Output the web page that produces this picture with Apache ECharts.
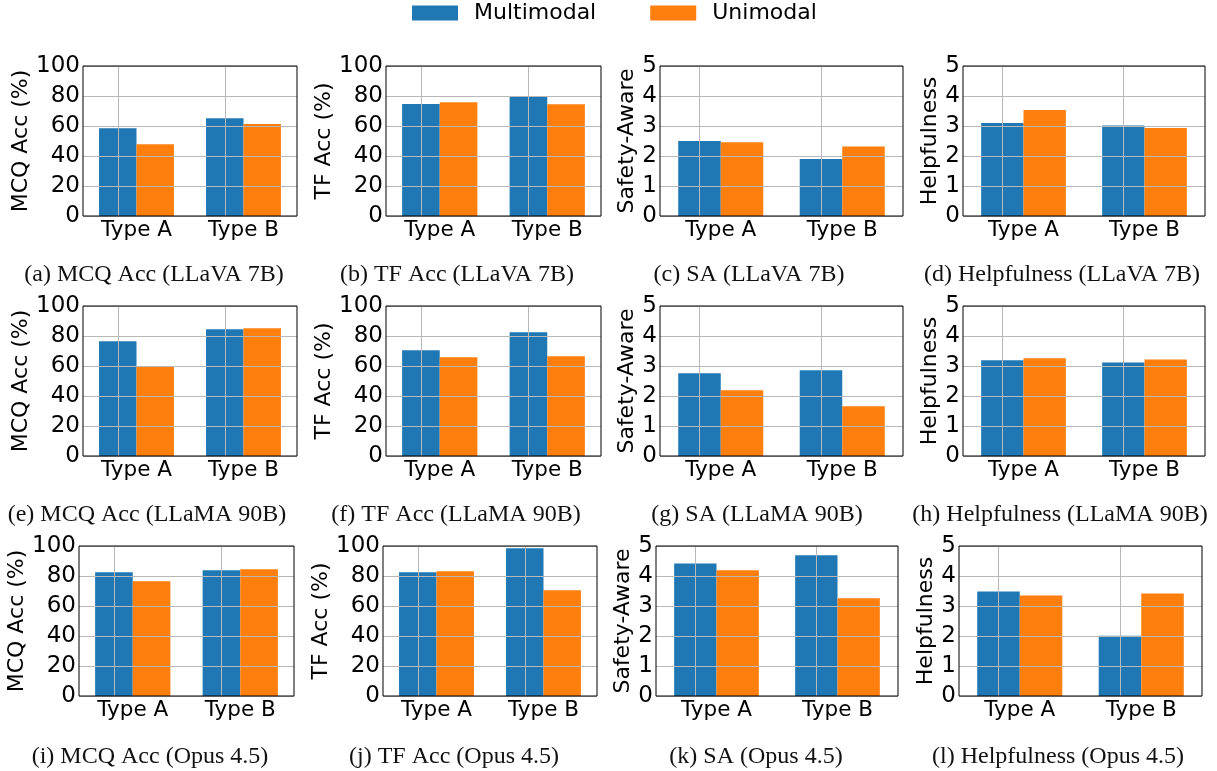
<!DOCTYPE html>
<html>
<head>
<meta charset="utf-8">
<script src="https://cdn.jsdelivr.net/npm/echarts@6/dist/echarts.min.js"></script>
<style>
html,body{margin:0;padding:0;background:#fff;}
#chart{width:1217px;height:771px;}
</style>
</head>
<body>
<div id="chart"></div>
<script>
// ---------- data ----------
const categories = ['Type A', 'Type B'];
const seriesNames = ['Multimodal', 'Unimodal'];
const pctTicks = [0, 20, 40, 60, 80, 100];
const scoreTicks = [0, 1, 2, 3, 4, 5];

// LLaVA 7B
const mcqLlavaMulti = [58.5, 65.1];
const mcqLlavaUni = [47.8, 61.3];
const tfLlavaMulti = [74.6, 79.7];
const tfLlavaUni = [75.9, 74.5];
const saLlavaMulti = [2.50, 1.90];
const saLlavaUni = [2.46, 2.32];
const helpLlavaMulti = [3.10, 3.02];
const helpLlavaUni = [3.53, 2.93];
// LLaMA 90B
const mcqLlamaMulti = [76.5, 84.5];
const mcqLlamaUni = [59.3, 85.1];
const tfLlamaMulti = [70.5, 82.5];
const tfLlamaUni = [65.8, 66.5];
const saLlamaMulti = [2.76, 2.86];
const saLlamaUni = [2.19, 1.66];
const helpLlamaMulti = [3.19, 3.12];
const helpLlamaUni = [3.26, 3.22];
// Opus 4.5
const mcqOpusMulti = [82.5, 83.8];
const mcqOpusUni = [76.5, 84.5];
const tfOpusMulti = [82.5, 98.5];
const tfOpusUni = [83.1, 70.5];
const saOpusMulti = [4.42, 4.69];
const saOpusUni = [4.19, 3.26];
const helpOpusMulti = [3.48, 2.01];
const helpOpusUni = [3.35, 3.42];

const captions = [
  '(a) MCQ Acc (LLaVA 7B)', '(b) TF Acc (LLaVA 7B)', '(c) SA (LLaVA 7B)', '(d) Helpfulness (LLaVA 7B)',
  '(e) MCQ Acc (LLaMA 90B)', '(f) TF Acc (LLaMA 90B)', '(g) SA (LLaMA 90B)', '(h) Helpfulness (LLaMA 90B)',
  '(i) MCQ Acc (Opus 4.5)', '(j) TF Acc (Opus 4.5)', '(k) SA (Opus 4.5)', '(l) Helpfulness (Opus 4.5)'
];
const yNames = ['MCQ Acc (%)', 'TF Acc (%)', 'Safety-Aware', 'Helpfulness'];

const panelData = [
  [mcqLlavaMulti, mcqLlavaUni, pctTicks], [tfLlavaMulti, tfLlavaUni, pctTicks],
  [saLlavaMulti, saLlavaUni, scoreTicks], [helpLlavaMulti, helpLlavaUni, scoreTicks],
  [mcqLlamaMulti, mcqLlamaUni, pctTicks], [tfLlamaMulti, tfLlamaUni, pctTicks],
  [saLlamaMulti, saLlamaUni, scoreTicks], [helpLlamaMulti, helpLlamaUni, scoreTicks],
  [mcqOpusMulti, mcqOpusUni, pctTicks], [tfOpusMulti, tfOpusUni, pctTicks],
  [saOpusMulti, saOpusUni, scoreTicks], [helpOpusMulti, helpOpusUni, scoreTicks]
];

// ---------- layout ----------
const rowTops = [66, 306, 546];
const capCy = [274, 514, 755.5];
const colLayout = [
  // [left, width, nameCenterX, captionCenterX]
  [[83, 214, 21.3, 154], [386, 215, 325, 457], [660, 243, 626, 749], [963, 242, 930, 1062]],
  [[83, 214, 21.3, 147], [386, 215, 325, 456], [660, 243, 626, 757], [963, 242, 930, 1060]],
  [[79, 215, 20, 150], [383, 214, 321.7, 454], [656, 242, 622.7, 756], [959, 243, 925.7, 1058]]
];

const COLORS = ['#1f77b4', '#ff7f0e'];
const GRIDC = '#b8b8b8';
const SANS = 'DejaVu Sans';
const TICK_FS = 23, XTICK_FS = 21.5, NAME_FS = 22, CAP_FS = 24;

const grids = [], xAxes = [], yAxes = [], series = [], titles = [];
for (let i = 0; i < 12; i++) {
  const r = Math.floor(i / 4), c = i % 4;
  const [left, width, nameCx, capCx] = colLayout[r][c];
  const [multi, uni, ticks] = panelData[i];
  grids.push({
    left: left, top: rowTops[r], width: width, height: 150,
    show: true, borderColor: '#000', borderWidth: 1, backgroundColor: 'transparent', z: 10
  });
  xAxes.push({
    type: 'category', gridIndex: i, data: categories,
    axisLine: { show: false }, axisTick: { show: false },
    axisLabel: { color: '#000', fontFamily: SANS, fontSize: XTICK_FS, margin: 3 },
    splitLine: { show: false }
  });
  yAxes.push({
    type: 'value', gridIndex: i, min: ticks[0], max: ticks[ticks.length - 1],
    interval: ticks[1] - ticks[0], z: 5,
    name: yNames[c], nameLocation: 'middle', nameGap: left - nameCx - NAME_FS / 2 - 4,
    nameTextStyle: { color: '#000', fontFamily: SANS, fontSize: NAME_FS },
    axisLine: { show: false }, axisTick: { show: false },
    axisLabel: { color: '#000', fontFamily: SANS, fontSize: TICK_FS, margin: 3 },
    splitLine: { show: true, lineStyle: { color: GRIDC, width: 1 } }
  });
  series.push({
    name: seriesNames[0], type: 'bar', xAxisIndex: i, yAxisIndex: i, data: multi,
    barWidth: '35%', barGap: '0%', itemStyle: { color: COLORS[0] },
    markLine: {
      silent: true, symbol: ['none', 'none'], label: { show: false }, z: 5,
      lineStyle: { color: GRIDC, type: 'solid', width: 1 },
      emphasis: { disabled: true },
      data: categories.map(cat => ({ xAxis: cat }))
    }
  });
  series.push({
    name: seriesNames[1], type: 'bar', xAxisIndex: i, yAxisIndex: i, data: uni,
    barWidth: '35%', barGap: '0%', itemStyle: { color: COLORS[1] }
  });
  titles.push({
    text: captions[i], left: capCx, top: capCy[r] - 11, padding: 0, textAlign: 'center',
    textStyle: { fontFamily: 'Liberation Serif', fontSize: CAP_FS, fontWeight: 'normal', color: '#111' }
  });
}

const chart = echarts.init(document.getElementById('chart'), null, { renderer: 'canvas' });
chart.setOption({
  animation: false,
  backgroundColor: '#fff',
  color: COLORS,
  title: titles,
  legend: {
    data: seriesNames, left: 412, top: 2, padding: 0, icon: 'rect', itemWidth: 46, itemHeight: 15, itemGap: 54,
    selectedMode: false,
    textStyle: { color: '#000', fontFamily: SANS, fontSize: 22, padding: [0, 0, 0, 11] }
  },
  grid: grids,
  xAxis: xAxes,
  yAxis: yAxes,
  series: series
});
</script>
</body>
</html>
